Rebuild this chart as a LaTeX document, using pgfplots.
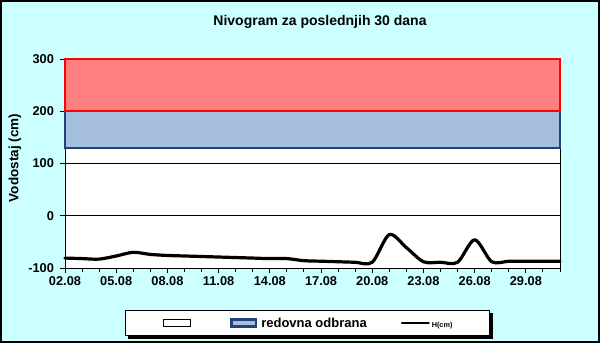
\documentclass[border=0pt]{standalone}
\usepackage{pgfplots}
\pgfplotsset{compat=1.18}
\usepackage{fontspec}
\setmainfont{Liberation Sans}
\definecolor{bgc}{HTML}{CCFFFF}
\definecolor{redfill}{HTML}{FF8080}
\definecolor{bluefill}{HTML}{A6BFDD}
\definecolor{blueline}{HTML}{24427A}
\pgfdeclarelayer{bg}
\pgfdeclarelayer{shadow}
\pgfsetlayers{bg,shadow,main}
\begin{document}
\begin{tikzpicture}
\begin{pgfonlayer}{bg}
\fill[bgc] (0bp,0bp) rectangle (600bp,343bp);
\draw[black, line width=2bp] (1bp,1bp) rectangle (599bp,342bp);
\end{pgfonlayer}
\node[anchor=base, inner sep=0pt, font=\bfseries\fontsize{14bp}{16bp}\selectfont] at (320bp,317bp) {Nivogram za poslednjih 30 dana};
\begin{axis}[
  at={(65bp,75bp)}, anchor=south west,
  scale only axis, width=495bp, height=209bp,
  xmin=0, xmax=29, ymin=-100, ymax=300,
  clip=false,
  axis background/.style={fill=white},
  axis line style={black, line width=1bp},
  xtick={0,3,...,27},
  xticklabels={02.08,05.08,08.08,11.08,14.08,17.08,20.08,23.08,26.08,29.08},
  minor xtick={0,1,...,29},
  ytick={-100,0,100,200,300}, yticklabels={-100,0,100,200,300},
  ymajorgrids, grid style={black, line width=1bp},
  tick align=outside, xtick pos=bottom, ytick pos=left,
  major tick length=5bp, minor tick length=4bp,
  tick style={black, line width=1bp},
  ticklabel style={font=\bfseries\fontsize{12.8bp}{15bp}\selectfont},
  yticklabel style={xshift=-2.5bp},
  ylabel={Vodostaj (cm)},
  ylabel style={font=\bfseries\fontsize{13.5bp}{16bp}\selectfont, at={(axis description cs:-0.101,0.526)}, anchor=center},
  legend cell align=left,
  legend style={
    name=leg,
    at={(axis description cs:0.4899,-0.201)}, anchor=north,
    draw=black, line width=1.2bp, fill=white,
    legend columns=3,
    font=\bfseries\fontsize{13bp}{15bp}\selectfont,
    inner xsep=37bp, inner ysep=7bp,
    nodes={inner sep=0pt},
    /tikz/column 1/.style={column sep=20bp},
    /tikz/column 2/.style={column sep=19bp},
    /tikz/column 3/.style={column sep=4bp},
    /tikz/column 4/.style={column sep=34bp},
    /tikz/column 5/.style={column sep=2bp},
  },
]
\addplot[draw=none, fill=none,
  legend image code/.code={\draw[black, line width=0.8bp, fill=white] (0bp,-3.5bp) rectangle (27bp,3.5bp);}]
  coordinates {(0,-100) (29,-100) (29,130) (0,130)};
\addlegendentry{}
\addplot[fill=bluefill, draw=blueline, line width=2.4bp,
  legend image code/.code={\draw[blueline, line width=2.4bp, fill=bluefill] (1.2bp,-3.5bp) rectangle (25.8bp,3.5bp);}]
  coordinates {(0,130) (29,130) (29,200) (0,200)} -- cycle;
\addlegendentry{redovna odbrana}
\addplot[fill=redfill, draw=red, line width=2.4bp, forget plot]
  coordinates {(0,200) (29,200) (29,300) (0,300)} -- cycle;
\addplot[black, line width=3.2bp, smooth, line join=round, line cap=round,
  legend image code/.code={\draw[black, line width=2bp] (0bp,0bp) -- (27bp,0bp);}]
  coordinates {
  (0,-81) (1,-82) (2,-83) (3,-77) (4,-70) (5,-74) (6,-76) (7,-77) (8,-78) (9,-79)
  (10,-80) (11,-81) (12,-82) (13,-82) (14,-86) (15,-87) (16,-88) (17,-89) (18,-89) (19,-36)
  (20,-61) (21,-88) (22,-89) (23,-89) (24,-46) (25,-88) (26,-87) (27,-87) (28,-87) (29,-87)
  };
\addlegendentry{\fontsize{7.3bp}{9bp}\selectfont\raisebox{-2bp}[5.5bp][1.5bp]{H(cm)}}
\end{axis}
\begin{pgfonlayer}{shadow}
\fill[black] ([shift={(3bp,-3bp)}]leg.south west) rectangle ([shift={(3bp,-3bp)}]leg.north east);
\end{pgfonlayer}
\end{tikzpicture}
\end{document}
